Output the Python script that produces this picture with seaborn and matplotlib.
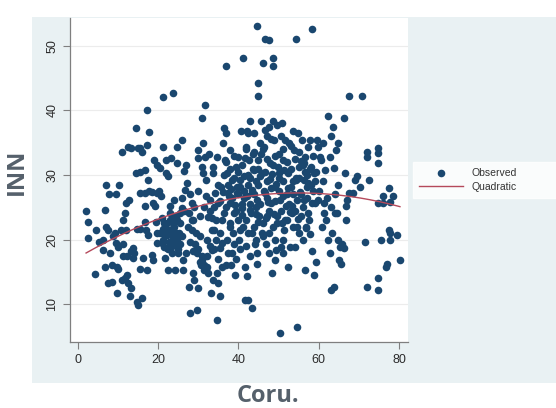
import numpy as np
import pandas as pd
import seaborn as sns
import matplotlib.pyplot as plt
from matplotlib.patches import Rectangle

# Coru. (x) and INN (y) values
coru = [
    2.1, 2.5, 2.5, 4.5, 4.3, 5.3,
    6.4, 6.8, 7.1, 7.1, 7.6, 7.9, 6.4, 6.8, 7.6, 8.5, 8.0, 8.5, 8.9, 9.3, 9.5, 9.5, 9.7, 10.1, 10.4, 10.1, 9.9,
    11.0, 10.7, 11.4, 11.2, 11.8, 12.0, 12.0, 12.2, 11.4, 11.0, 11.8, 12.4, 12.6, 12.9, 13.0, 12.6, 13.4, 13.7,
    13.4, 13.9, 13.4, 14.4, 14.0, 14.7, 14.9, 14.7, 14.5, 15.1,
    15.5, 15.4, 15.9, 15.5, 15.4, 15.9, 15.5, 16.3, 16.7, 16.7, 16.7, 16.7, 17.0, 17.2, 17.3, 17.6, 17.8, 17.8,
    17.6, 17.2, 18.4, 18.4, 18.7, 18.8, 19.0, 19.3, 19.5, 19.7, 19.8, 19.7, 19.8,
    20.3, 20.5, 20.7, 20.9, 21.2, 21.2, 21.3, 21.3, 21.5, 21.7, 22.0, 22.0, 22.2, 22.3, 22.6, 22.6, 22.8, 23.0,
    23.0, 23.2, 23.4, 23.7, 23.4, 23.8, 23.8, 24.0, 24.2, 24.2, 24.5, 24.6, 24.8, 24.6, 24.9, 22.6,
    20.5, 21.7, 23.0, 22.2, 23.7, 24.6, 25.4, 25.3, 25.4, 25.9, 25.9, 26.1, 26.3, 26.5, 26.7, 27.0, 27.1, 27.6,
    27.8, 28.0, 28.0, 28.4, 28.4, 28.6, 28.6, 28.8, 29.0, 29.2, 29.6, 29.8, 30.0, 30.0, 30.0, 30.5, 30.5, 30.6,
    30.9, 30.9, 31.1, 30.9, 31.3, 31.5, 31.7, 31.7, 32.0, 32.0, 32.1, 32.3, 32.1, 32.5, 32.8, 32.9, 33.1, 33.4,
    33.4, 33.6, 33.8, 33.8, 33.9, 34.2, 34.4, 34.6, 34.6, 34.8, 35.0, 35.0, 35.3, 35.4, 35.4, 35.6, 35.8, 36.1,
    36.3, 36.4, 36.7, 36.9, 36.9, 37.1, 37.1, 37.3, 37.5, 37.8, 37.9, 37.9, 38.1, 38.3, 38.6, 38.8, 38.9, 39.2,
    39.4, 39.6, 39.8, 40.0, 40.2, 40.4, 40.6, 40.8, 41.1, 41.2, 41.4, 41.7, 41.7, 41.9, 42.1, 42.1, 42.2, 42.5,
    42.5, 42.7, 42.9, 43.1, 43.3, 43.3, 43.6, 43.7, 43.9, 44.1, 44.4, 44.6, 44.6, 44.7, 45.0, 45.0, 45.0, 44.7,
    45.2, 45.6, 45.8, 45.8, 46.2, 46.4, 46.6, 46.6, 46.8, 47.1, 47.2, 47.5, 47.7, 47.7, 47.9, 48.0, 48.3, 48.5,
    48.5, 48.5, 48.7, 48.9, 49.1, 49.2, 49.4, 49.5, 49.7, 50.0, 50.2, 50.4, 50.5, 50.8, 51.0, 51.2, 51.2, 51.4,
    51.6, 51.9, 52.0, 52.4, 52.4, 52.9, 53.0, 53.3, 53.5, 53.7, 53.8, 54.1, 54.4, 54.4, 54.5, 54.7, 54.8, 55.0,
    55.2, 55.4, 55.5, 55.8, 56.0, 56.2, 56.3, 56.6, 56.6, 56.8, 57.0, 57.2, 57.4, 57.7, 57.9, 58.0, 58.3, 58.3,
    58.5, 58.7, 58.8, 59.1, 59.3, 59.5, 59.7, 59.9, 60.3, 60.5, 60.7, 61.0, 61.2, 61.3, 61.6, 61.8, 62.2, 62.4,
    62.7, 62.8, 63.0, 63.0, 63.2, 63.5, 63.7, 63.8, 64.1, 64.3, 64.6, 64.9, 64.9, 64.9, 65.1, 65.3, 65.5, 65.7,
    66.3, 66.3, 66.6, 66.8, 66.8, 67.0, 67.4, 67.6, 68.6, 69.0, 69.5, 70.3, 70.7, 71.5, 71.9, 71.9, 72.1, 72.6,
    74.8, 74.8, 74.8, 74.8, 74.8, 74.8, 75.5, 76.0, 76.1, 76.8, 77.1, 77.4, 77.4, 77.6, 77.8, 77.8, 78.4, 79.4,
    80.2,
    35.5, 36.0, 36.8, 37.5, 38.0, 38.5, 39.0, 39.5, 40.0, 40.5, 41.0, 41.5, 42.0, 42.5, 43.0, 43.5, 44.0, 44.5,
    45.0, 45.5, 46.0, 46.5, 47.0, 47.5, 48.0, 48.5, 49.0, 49.5, 50.0, 50.5, 51.0, 51.5, 52.0, 52.5, 53.0, 53.5,
    54.0, 54.5, 55.0, 55.5, 56.0, 56.5, 57.0, 57.5, 58.0, 58.5, 59.0, 60.0, 61.0, 62.0, 63.0, 64.0, 36.5, 37.0,
    38.0, 39.0, 40.0, 41.0, 42.0, 43.0, 44.0, 45.0, 46.0, 47.0, 48.0, 49.0, 50.0, 51.0, 52.0, 53.0, 54.0, 55.0,
    56.0, 57.0, 34.0, 34.5, 35.0, 33.0, 33.5, 32.5, 31.5, 31.0, 30.5, 31.5, 32.0, 30.0, 29.5, 28.5, 27.5, 26.5,
    26.0, 25.5, 25.0, 24.5, 24.0, 23.5, 23.0, 22.5, 22.0, 21.5, 21.0, 26.0, 27.0, 28.0, 29.0, 30.0, 38.5, 39.5,
    40.5, 42.0, 43.0, 44.5, 46.0, 47.5, 49.0, 51.0, 37.0, 36.0, 35.0, 34.0, 33.0, 45.5, 47.0, 44.0, 42.5, 50.5,
    52.5, 46.5,
    38.2, 39.1, 40.3, 41.3, 42.4, 43.4, 44.3, 45.3, 46.3, 47.3, 48.3, 49.3, 50.3, 51.3, 52.3, 53.3, 54.3, 55.3,
    56.3, 57.3, 58.3, 59.3, 40.8, 42.8, 44.8, 46.8, 48.8, 50.8, 52.8, 54.8, 56.8, 41.6, 43.8, 45.7, 47.8, 49.8,
    53.6, 55.7, 57.8, 36.2, 37.7, 39.7,
]
inn = [
    24.4, 22.8, 20.3, 21.5, 14.7, 19.7,
    19.9, 24.6, 28.5, 22.0, 21.5, 27.0, 18.4, 15.8, 13.3, 13.5, 17.9, 16.1, 20.5, 21.0, 27.0, 19.5, 11.8, 18.9, 28.5, 15.4, 15.8,
    33.6, 21.5, 19.4, 23.0, 24.1, 25.6, 21.5, 17.4, 17.4, 13.8, 14.0, 14.5, 34.4, 26.2, 11.2, 13.3, 18.2, 17.1,
    12.5, 18.7, 34.2, 37.3, 17.9, 10.4, 34.2, 21.7, 30.3, 9.9,
    30.5, 34.2, 33.6, 21.7, 27.2, 10.9, 15.4, 17.1, 30.8, 27.2, 25.2, 22.8, 21.5, 40.1, 34.7, 29.3, 27.5, 36.7,
    20.7, 15.3, 17.6, 27.4, 25.7, 16.9, 32.3, 25.2, 22.8, 27.2, 31.6, 21.0, 19.5,
    27.6, 31.1, 26.7, 23.3, 42.1, 34.4, 21.7, 20.0, 18.9, 17.1, 30.3, 32.3, 20.7, 22.5, 15.3, 21.5, 19.7, 25.2,
    24.1, 32.6, 17.9, 42.7, 21.7, 20.3, 19.2, 26.2, 23.6, 15.3, 21.0, 31.9, 34.4, 20.0, 17.9, 29.9,
    21.0, 20.7, 21.0, 18.7, 22.5, 23.0, 24.1, 21.0, 19.4, 35.4, 24.9, 16.9, 15.3, 30.6, 27.7, 17.9, 28.7, 24.1,
    12.7, 8.6, 19.7, 25.6, 21.5, 23.0, 14.8, 18.2, 13.8, 19.4, 17.9, 9.1, 32.6, 33.9, 12.5, 23.6, 20.5, 16.1,
    38.8, 31.3, 30.3, 16.9, 34.9, 15.3, 40.8, 32.8, 29.3, 26.7, 20.0, 17.4, 15.8, 14.8, 33.3, 26.2, 11.7, 23.3,
    18.4, 31.3, 13.8, 30.3, 21.5, 27.2, 20.0, 7.6, 14.8, 32.8, 25.6, 13.3, 18.7, 21.0, 11.2, 28.2, 15.8, 34.9,
    37.3, 24.1, 32.3, 46.8, 36.5, 20.0, 30.3, 27.2, 17.9, 22.5, 33.9, 25.6, 16.1, 29.3, 21.0, 24.1, 19.4, 14.5,
    31.3, 27.2, 23.0, 32.8, 20.0, 28.2, 36.8, 24.9, 22.0, 48.1, 29.8, 15.8, 10.7, 34.4, 36.8, 26.7, 14.3, 10.7,
    21.0, 32.3, 38.3, 24.1, 9.4, 27.7, 31.0, 33.3, 22.0, 19.4, 29.0, 17.9, 53.0, 26.2, 44.2, 42.2, 32.3, 16.3,
    23.6, 38.3, 30.3, 21.0, 47.4, 34.4, 51.0, 27.2, 19.4, 23.6, 29.0, 17.9, 50.9, 37.5, 31.9, 25.7, 14.8, 48.1,
    46.8, 38.4, 22.0, 35.4, 16.9, 28.2, 18.4, 23.6, 37.8, 30.3, 33.3, 5.5, 18.9, 38.1, 26.7, 32.3, 20.0, 21.5,
    35.4, 25.2, 23.0, 15.8, 30.3, 18.9, 28.2, 24.1, 36.8, 22.0, 33.9, 18.9, 51.0, 29.3, 26.2, 6.5, 36.5, 21.0,
    31.3, 27.2, 23.6, 35.4, 20.0, 29.3, 26.2, 32.8, 15.3, 22.0, 28.2, 34.4, 24.1, 35.4, 20.8, 31.3, 52.6, 18.2,
    27.5, 14.5, 30.3, 25.6, 16.6, 35.4, 34.4, 26.2, 32.8, 32.3, 22.0, 34.9, 24.1, 25.6, 30.8, 23.0, 20.0, 39.2,
    17.9, 32.8, 36.0, 12.2, 21.0, 37.5, 12.7, 31.1, 24.1, 33.9, 24.1, 28.5, 34.9, 20.0, 16.9, 18.9, 16.3, 19.4,
    18.7, 38.8, 30.3, 25.2, 23.0, 26.2, 42.2, 27.2, 27.2, 29.3, 29.8, 28.2, 42.2, 19.7, 33.6, 32.8, 12.7, 29.3,
    34.2, 33.4, 31.9, 25.6, 14.0, 12.2, 20.0, 26.7, 25.6, 15.8, 16.3, 28.0, 21.5, 25.9, 21.0, 20.0, 26.7, 20.7,
    16.9,
    26.0, 23.0, 25.0, 28.5, 22.0, 26.5, 29.5, 24.5, 27.0, 21.5, 25.5, 27.5, 23.0, 28.5, 25.5, 21.0, 27.0, 24.0,
    28.5, 25.5, 22.5, 30.5, 26.5, 24.5, 28.0, 31.5, 26.0, 22.5, 27.5, 24.5, 29.0, 23.0, 27.0, 25.5, 31.0, 27.0,
    24.5, 22.0, 29.5, 27.0, 25.0, 30.5, 26.5, 23.0, 28.5, 33.0, 29.0, 27.5, 29.0, 26.5, 25.0, 27.0, 30.0, 32.0,
    31.0, 33.0, 30.5, 31.5, 34.0, 29.5, 33.5, 31.0, 34.0, 32.5, 35.5, 33.0, 29.5, 34.0, 32.0, 34.5, 32.5, 33.5,
    31.5, 30.0, 25.0, 23.0, 28.5, 24.5, 21.5, 23.5, 25.0, 17.5, 16.5, 16.0, 15.5, 18.5, 21.0, 23.0, 22.0, 24.5,
    20.5, 22.5, 18.5, 23.5, 22.0, 19.0, 23.0, 18.5, 21.5, 22.5, 19.5, 26.5, 31.5, 27.0, 25.0, 27.5, 18.0, 17.0,
    18.5, 19.0, 17.5, 20.0, 20.5, 21.0, 20.0, 18.0, 16.0, 19.5, 17.0, 18.5, 19.0, 35.0, 36.0, 36.5, 36.5, 36.0,
    35.0, 37.0,
    27.8, 25.3, 29.2, 26.4, 30.0, 27.2, 25.0, 29.8, 27.6, 25.8, 30.2, 28.6, 26.2, 30.8, 28.0, 25.2, 29.6, 27.4,
    31.8, 28.8, 25.6, 30.4, 23.8, 24.6, 22.8, 23.4, 24.0, 22.6, 24.2, 23.2, 21.8, 32.6, 30.8, 33.2, 29.4, 31.2,
    29.0, 32.2, 31.0, 27.4, 26.8, 28.2,
]

df = pd.DataFrame({"Coru.": coru, "INN": inn})

# quadratic fit over the observed range
coef = np.polyfit(df["Coru."], df["INN"], 2)
xfit = np.linspace(df["Coru."].min(), df["Coru."].max(), 200)
fit = pd.DataFrame({"x": xfit, "y": np.polyval(coef, xfit)})

plt.rcParams["font.family"] = ["Liberation Sans", "DejaVu Sans"]

fig = plt.figure(figsize=(5.56, 4.08), dpi=100)
fig.patch.set_facecolor("white")
bg = Rectangle((0.0576, 0.0613), 0.9424, 0.897, transform=fig.transFigure,
               facecolor="#e9f1f3", edgecolor="none", zorder=-10)
fig.add_artist(bg)

ax = fig.add_axes([0.1259, 0.1618, 0.6079, 0.7941])
ax.set_zorder(5)
ax.set_facecolor("white")
sns.scatterplot(data=df, x="Coru.", y="INN", ax=ax, color="#1a476f", s=30,
                linewidth=0, label="Observed", zorder=3)
sns.lineplot(data=fit, x="x", y="y", ax=ax, color="#b5495b", linewidth=1.0,
             label="Quadratic", zorder=4)

ax.set_xlim(-1.9, 82.2)
ax.set_ylim(4.16, 54.3)
ax.set_xticks([0, 20, 40, 60, 80])
ax.set_yticks([10, 20, 30, 40, 50])
ax.grid(axis="y", color="#ececec", linewidth=0.8)
ax.set_axisbelow(True)
for s in ["top", "right"]:
    ax.spines[s].set_visible(False)
for s in ["left", "bottom"]:
    ax.spines[s].set_color("#7f7f7f")
    ax.spines[s].set_linewidth(0.9)
ax.tick_params(axis="both", colors="#2b2b2b", labelsize=9, length=5, width=0.8)
ax.tick_params(axis="both", color="#7f7f7f")
for lab in ax.get_yticklabels():
    lab.set_rotation(90)
    lab.set_va("center")
ax.set_xlabel("")
ax.set_ylabel("")

leg = ax.legend(loc="center left", bbox_to_anchor=(0.743, 0.505, 0.257, 0.108),
                bbox_transform=fig.transFigure, frameon=True, fancybox=False,
                fontsize=7.5, handlelength=4.2, handletextpad=0.8, borderpad=0.6,
                labelspacing=0.35, borderaxespad=0, mode="expand")
leg.get_frame().set_facecolor("white")
leg.get_frame().set_edgecolor("white")
for t in leg.get_texts():
    t.set_color("#333333")

fig.text(268 / 556, 1 - 396 / 408, "Coru.", ha="center", va="center",
         fontsize=17, fontweight="bold", color="#55606b", family=["Open Sans", "DejaVu Sans"])
fig.text(17 / 556, 1 - 172 / 408, "INN", ha="center", va="center", rotation=90,
         fontsize=17, fontweight="bold", color="#55606b", family=["Open Sans", "DejaVu Sans"])

fig.savefig("out.png", dpi=100)
